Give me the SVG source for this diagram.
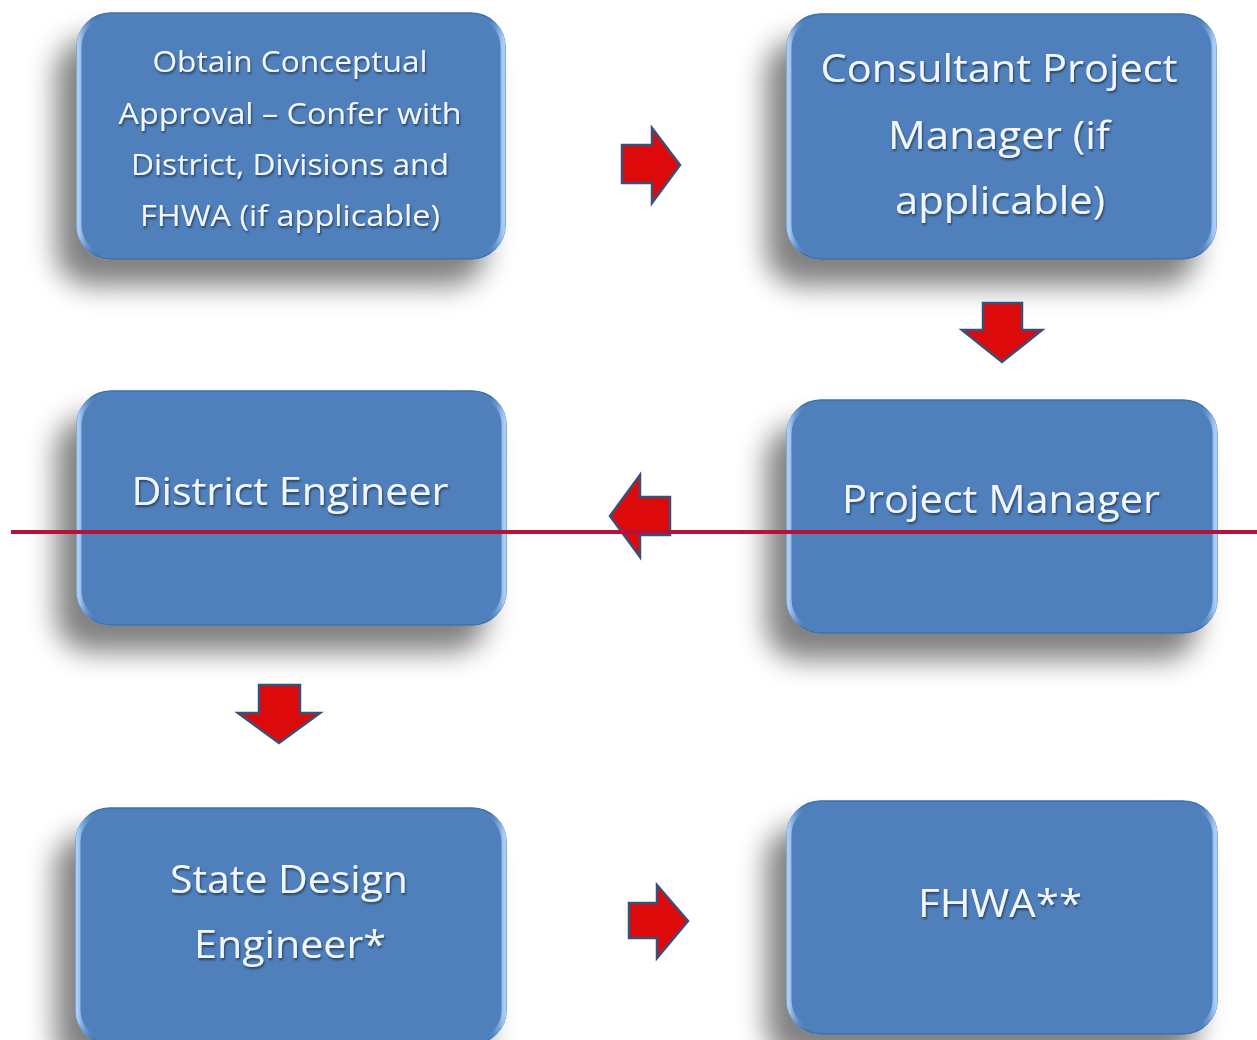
<svg xmlns="http://www.w3.org/2000/svg" width="1257" height="1040" viewBox="0 0 1257 1040">
<defs>
<filter id="sh" x="-25%" y="-25%" width="150%" height="170%">
<feGaussianBlur in="SourceAlpha" stdDeviation="14"/>
<feOffset dx="-20" dy="26" result="b"/>
<feComponentTransfer><feFuncA type="linear" slope="0.5"/></feComponentTransfer>
<feMerge><feMergeNode/><feMergeNode in="SourceGraphic"/></feMerge>
</filter>
<filter id="ts" x="-5%" y="-20%" width="110%" height="140%">
<feGaussianBlur in="SourceAlpha" stdDeviation="1"/>
<feOffset dx="1" dy="1.5"/>
<feComponentTransfer><feFuncA type="linear" slope="0.5"/></feComponentTransfer>
<feMerge><feMergeNode/><feMergeNode in="SourceGraphic"/></feMerge>
</filter>
<linearGradient id="edge" x1="0" y1="0" x2="1" y2="0">
<stop offset="0" stop-color="#a9cdf5"/>
<stop offset="0.04" stop-color="#4f81bd" stop-opacity="0"/>
<stop offset="0.96" stop-color="#4f81bd" stop-opacity="0"/>
<stop offset="1" stop-color="#a9cdf5"/>
</linearGradient>
</defs>
<style>
.box{fill:#4f80bc;stroke:#3f6fa8;stroke-width:1.5}
.hl{fill:none;stroke:url(#edge);stroke-width:5}
.t{font-family:"Open Sans","Noto Sans","DejaVu Sans",sans-serif;fill:#f2f6fa;text-anchor:middle}
.arr{fill:#dc0a0a;stroke:#3c4f78;stroke-width:2.5;stroke-linejoin:miter}
</style>
<rect width="1257" height="1040" fill="#ffffff"/>
<g id="n1" filter="url(#sh)">
<rect class="box" x="77" y="13" width="428" height="246" rx="34"/>
<rect class="hl" x="79" y="15" width="424" height="242" rx="32"/>
<g filter="url(#ts)">
<text class="t" x="290" y="72" font-size="30" textLength="275" lengthAdjust="spacingAndGlyphs">Obtain Conceptual</text>
<text class="t" x="290" y="124" font-size="30" textLength="343" lengthAdjust="spacingAndGlyphs">Approval – Confer with</text>
<text class="t" x="290" y="175" font-size="30" textLength="318" lengthAdjust="spacingAndGlyphs">District, Divisions and</text>
<text class="t" x="290" y="226" font-size="30" textLength="300" lengthAdjust="spacingAndGlyphs">FHWA (if applicable)</text>
</g>
</g>
<g id="n2" filter="url(#sh)">
<rect class="box" x="787" y="14" width="429" height="245" rx="34"/>
<rect class="hl" x="789" y="16" width="425" height="241" rx="32"/>
<g filter="url(#ts)">
<text class="t" x="999" y="82" font-size="39" textLength="357" lengthAdjust="spacingAndGlyphs">Consultant Project</text>
<text class="t" x="999" y="149" font-size="39" textLength="222" lengthAdjust="spacingAndGlyphs">Manager (if</text>
<text class="t" x="1000" y="214" font-size="39" textLength="210" lengthAdjust="spacingAndGlyphs">applicable)</text>
</g>
</g>
<g id="n3" filter="url(#sh)">
<rect class="box" x="77" y="391" width="429" height="234" rx="34"/>
<rect class="hl" x="79" y="393" width="425" height="230" rx="32"/>
<text class="t" x="290" y="505" font-size="38" textLength="317" lengthAdjust="spacingAndGlyphs" filter="url(#ts)">District Engineer</text>
</g>
<g id="n4" filter="url(#sh)">
<rect class="box" x="787" y="400" width="430" height="233" rx="34"/>
<rect class="hl" x="789" y="402" width="426" height="229" rx="32"/>
<text class="t" x="1001" y="513" font-size="38" textLength="318" lengthAdjust="spacingAndGlyphs" filter="url(#ts)">Project Manager</text>
</g>
<g id="n5" filter="url(#sh)">
<rect class="box" x="76" y="808" width="430" height="236" rx="34"/>
<rect class="hl" x="78" y="810" width="426" height="232" rx="32"/>
<g filter="url(#ts)">
<text class="t" x="289" y="893" font-size="38" textLength="238" lengthAdjust="spacingAndGlyphs">State Design</text>
<text class="t" x="290" y="958" font-size="38" textLength="192" lengthAdjust="spacingAndGlyphs">Engineer*</text>
</g>
</g>
<g id="n6" filter="url(#sh)">
<rect class="box" x="787" y="801" width="430" height="233" rx="34"/>
<rect class="hl" x="789" y="803" width="426" height="229" rx="32"/>
<text class="t" x="1000" y="917" font-size="38" textLength="164" lengthAdjust="spacingAndGlyphs" filter="url(#ts)">FHWA**</text>
</g>
<g id="connectors">
<polygon class="arr" points="622,145 652,145 652,128 680,165 652,203 652,183 622,183"/>
<polygon class="arr" points="983,303 1022,303 1022,330 1042,330 1002,362 962,330 983,330"/>
<polygon class="arr" points="610,516 640,475 640,497 670,497 670,535 640,535 640,557"/>
<polygon class="arr" points="259,685 300,685 300,713 320,713 279,743 238,713 259,713"/>
<polygon class="arr" points="629,903 657,903 657,885 688,921 657,958 657,938 629,938"/>
</g>
<line x1="11" y1="532" x2="1257" y2="532" stroke="#b5123a" stroke-width="4"/>
</svg>
